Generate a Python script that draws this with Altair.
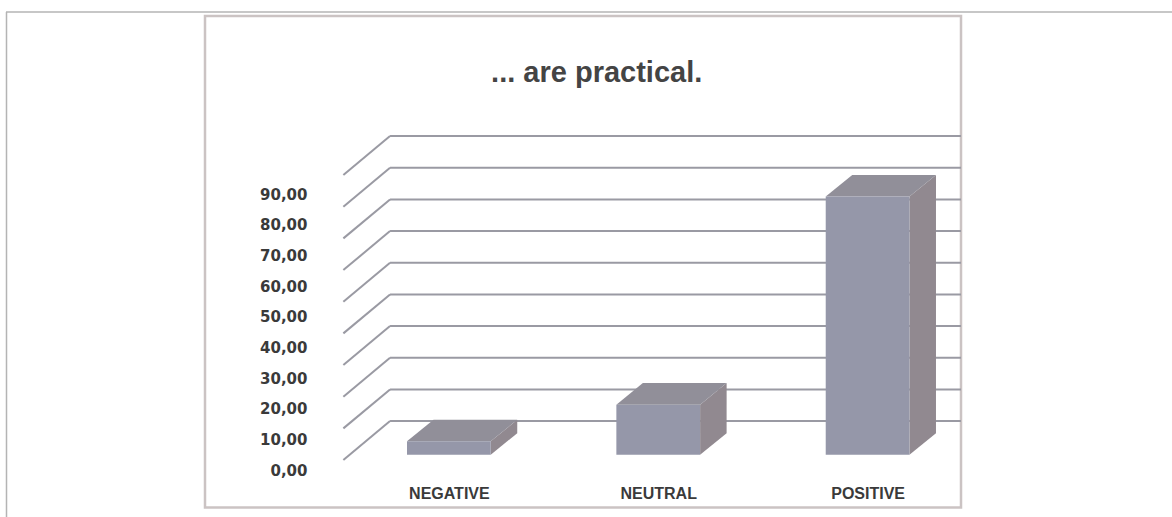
import json
import altair as alt
import pandas as pd

# ---- data ----
categories = ["NEGATIVE", "NEUTRAL", "POSITIVE"]
values = [4.2, 15.8, 81.5]
tick_values = [0, 10, 20, 30, 40, 50, 60, 70, 80, 90]
title_text = "... are practical."

# ---- pseudo-3D geometry (style constants, in scale units) ----
HALF = 0.2          # half bar width (category units)
DX = 0.1266         # bar depth, horizontal
DY = 6.8            # bar depth, vertical (value units)
BACK_DY = 10.6      # back wall offset (value units)
FRONT_DY = -1.7     # front floor edge offset (value units)
WALL_X0 = -0.281
FRONT_X = -0.504
WALL_X1 = 2.446

X_DOM = [-0.52, 2.47]
Y_DOM = [-8, 106]
LBL_DOM = [-3.26, 114.46]

xs = alt.Scale(domain=X_DOM, nice=False, zero=False)
ys = alt.Scale(domain=Y_DOM, nice=False, zero=False)

FRONT_C = "#9597a9"
TOP_C = "#918f99"
SIDE_C = "#918990"
GRID_C = "#9a9aa3"
TEXT_C = "#3a3a3a"

# ---- tables built from the arrays ----
bars = pd.DataFrame({"i": range(len(categories)), "cat": categories, "v": values})
bars["x0"] = bars["i"] - HALF
bars["x1"] = bars["i"] + HALF
bars["base"] = 0.0

top_rows, side_rows = [], []
for _, r in bars.iterrows():
    x0, x1, v = r["x0"], r["x1"], r["v"]
    top_rows += [
        {"cat": r["cat"], "x": x0, "lo": v, "hi": v},
        {"cat": r["cat"], "x": x0 + DX, "lo": v, "hi": v + DY},
        {"cat": r["cat"], "x": x1, "lo": v, "hi": v + DY},
        {"cat": r["cat"], "x": x1 + DX, "lo": v + DY, "hi": v + DY},
    ]
    side_rows += [
        {"cat": r["cat"], "x": x1, "lo": 0.0, "hi": v},
        {"cat": r["cat"], "x": x1 + DX, "lo": DY, "hi": v + DY},
    ]
top_df = pd.DataFrame(top_rows)
side_df = pd.DataFrame(side_rows)

grid = pd.DataFrame({"g": tick_values})
grid["yb"] = grid["g"] + BACK_DY
grid["yf"] = grid["g"] + FRONT_DY
grid["xw0"] = WALL_X0
grid["xw1"] = WALL_X1
grid["xf"] = FRONT_X

# ---- layers ----
back_lines = alt.Chart(grid).mark_rule(color=GRID_C, strokeWidth=2).encode(
    x=alt.X("xw0:Q", scale=xs, axis=None),
    x2="xw1:Q",
    y=alt.Y("yb:Q", scale=ys, axis=None),
)

diag_lines = alt.Chart(grid).mark_rule(color=GRID_C, strokeWidth=2).encode(
    x=alt.X("xf:Q", scale=xs, axis=None),
    x2="xw0:Q",
    y=alt.Y("yf:Q", scale=ys, axis=None),
    y2="yb:Q",
)

side = alt.Chart(side_df).mark_area(color=SIDE_C, opacity=1).encode(
    x=alt.X("x:Q", scale=xs, axis=None),
    y=alt.Y("lo:Q", scale=ys, axis=None, stack=None),
    y2="hi:Q",
    detail="cat:N",
)

top = alt.Chart(top_df).mark_area(color=TOP_C, opacity=1).encode(
    x=alt.X("x:Q", scale=xs, axis=None),
    y=alt.Y("lo:Q", scale=ys, axis=None, stack=None),
    y2="hi:Q",
    detail="cat:N",
)

front = alt.Chart(bars).mark_rect(color=FRONT_C).encode(
    x=alt.X("x0:Q", scale=xs, axis=None),
    x2="x1:Q",
    y=alt.Y("base:Q", scale=ys, axis=None),
    y2="v:Q",
)

label_expr = json.dumps(categories) + "[round(datum.value)]"
xlabels = alt.Chart(bars).mark_point(opacity=0).encode(
    x=alt.X(
        "i:Q",
        scale=xs,
        axis=alt.Axis(
            values=list(range(len(categories))),
            labelExpr=label_expr,
            title=None,
            domain=False,
            ticks=False,
            grid=False,
            labelFont="Liberation Sans",
            labelFontWeight="bold",
            labelFontSize=16,
            labelColor=TEXT_C,
            labelPadding=5,
        ),
    ),
    y=alt.Y("base:Q", scale=ys, axis=None),
)

ylabels = alt.Chart(pd.DataFrame({"g": tick_values})).mark_point(opacity=0).encode(
    y=alt.Y(
        "g:Q",
        scale=alt.Scale(domain=LBL_DOM, nice=False, zero=False),
        axis=alt.Axis(
            orient="left",
            values=tick_values,
            labelExpr="replace(format(datum.value, '.2f'), '.', ',')",
            title=None,
            domain=False,
            ticks=False,
            grid=False,
            labelFont="DejaVu Sans",
            labelFontWeight="bold",
            labelFontSize=15,
            labelColor=TEXT_C,
            labelPadding=33,
        ),
    ),
)

title = alt.Chart(pd.DataFrame({"t": [title_text]})).mark_text(
    font="Liberation Sans", fontSize=29, fontWeight="bold", color="#444444",
    align="center", baseline="alphabetic",
).encode(x=alt.value(256.7), y=alt.value(-37.3), text="t:N")

frame = alt.Chart(pd.DataFrame({"k": [0]})).mark_rect(
    fill="white", fillOpacity=0, stroke="#cbc3c3", strokeWidth=2.5
).encode(x=alt.value(-135), x2=alt.value(621), y=alt.value(-103), y2=alt.value(388.5))

page_top = alt.Chart(pd.DataFrame({"k": [0]})).mark_rule(color="#b4b4b4", strokeWidth=1.5).encode(
    x=alt.value(-334), x2=alt.value(832), y=alt.value(-107)
)
page_left = alt.Chart(pd.DataFrame({"k": [0]})).mark_rule(color="#b4b4b4", strokeWidth=1.5).encode(
    x=alt.value(-333.5), y=alt.value(-107), y2=alt.value(398)
)

chart = (
    alt.layer(page_top, page_left, frame, back_lines, diag_lines, side, top, front, xlabels, ylabels, title)
    .resolve_scale(y="independent")
    .resolve_axis(x="independent", y="independent")
    .properties(
        width=626,
        height=361,
        padding={"left": 340, "top": 119, "right": 206, "bottom": 37},
        autosize=alt.AutoSizeParams(type="none"),
        background="white",
    )
    .configure_view(stroke=None)
)

chart.save("out.html", embed_options={"renderer": "svg", "actions": False})
